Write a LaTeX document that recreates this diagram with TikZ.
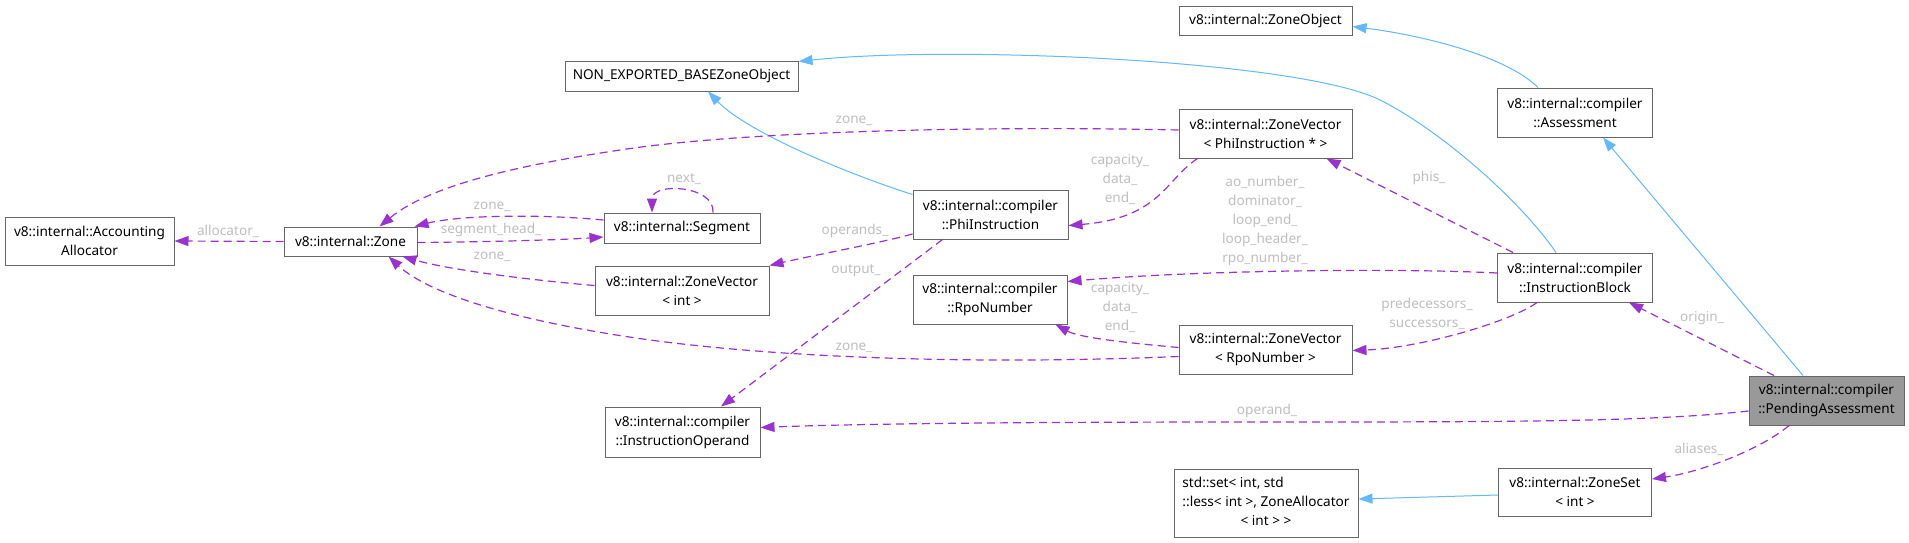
\documentclass[tikz,border=0pt]{standalone}
\usepackage{fontspec}
\newfontfamily\dgfamily{Noto Sans}
\usetikzlibrary{arrows.meta}
\definecolor{inh}{HTML}{63B8FF}
\definecolor{use}{HTML}{9A32CD}
\definecolor{bord}{HTML}{666666}
\definecolor{lbl}{HTML}{BEBEBE}
\definecolor{focus}{HTML}{999999}
\newcommand\dgfont{\dgfamily\fontsize{13.6pt}{19pt}\selectfont}
\begin{document}
\begin{tikzpicture}[x=1pt,y=-1pt,
 cls/.style 2 args={draw=bord,line width=1pt,fill=white,inner sep=0pt,align=center,font=\dgfont,minimum width=#1,minimum height=#2},
 lab/.style={text=lbl,font=\dgfont,inner sep=0pt,align=center},
 inhedge/.style={draw=inh,line width=1pt,-{Triangle[length=14pt,width=10pt]}},
 useedge/.style={draw=use,line width=1.2pt,dash pattern=on 8pt off 5pt,-{Triangle[length=14pt,width=10pt]}},
]
\useasboundingbox[fill=white] (0,0) rectangle (1909,542);

\node[cls={169pt}{48pt}] (alloc) at (89.5,241) {v8::internal::Accounting\\Allocator};
\node[cls={133pt}{29pt}] (zone) at (350.5,241.5) {v8::internal::Zone};
\node[cls={233pt}{30pt}] (nebzo) at (681.5,76) {NON\_EXPORTED\_BASEZoneObject};
\node[cls={173pt}{29pt}] (zobj) at (1265.5,20.5) {v8::internal::ZoneObject};
\node[cls={156pt}{30pt}] (seg) at (682,228) {v8::internal::Segment};
\node[cls={174pt}{49pt}] (zvint) at (682,290.5) {v8::internal::ZoneVector\\< int >};
\node[cls={155pt}{49pt}] (phi) at (990.5,214.5) {v8::internal::compiler\\::PhiInstruction};
\node[cls={173pt}{49pt}] (zvphi) at (1265.5,133.5) {v8::internal::ZoneVector\\< PhiInstruction * >};
\node[cls={155pt}{49pt}] (assess) at (1575,112.5) {v8::internal::compiler\\::Assessment};
\node[cls={154pt}{49pt}] (rpo) at (990,299.5) {v8::internal::compiler\\::RpoNumber};
\node[cls={155pt}{49pt}] (iblock) at (1575,277.5) {v8::internal::compiler\\::InstructionBlock};
\node[cls={173pt}{49pt}] (zvrpo) at (1265.5,349.5) {v8::internal::ZoneVector\\< RpoNumber >};
\node[cls={155pt}{50pt}] (iop) at (682.5,432) {v8::internal::compiler\\::InstructionOperand};
\node[cls={155pt}{49pt},fill=focus] (pend) at (1826.5,400.5) {v8::internal::compiler\\::PendingAssessment};
\node[cls={184pt}{68pt}] (stdset) at (1266,503) {\begin{tabular}{@{}l@{}}std::set< int, std\\::less< int >, ZoneAllocator\\\multicolumn{1}{@{}c@{}}{< int > >}\end{tabular}};
\node[cls={153pt}{48pt}] (zset) at (1575,492) {v8::internal::ZoneSet\\< int >};

% inheritance
\draw[inhedge] ([shift={(0,5)}]phi.north west) .. controls (860,178) and (750,135) .. ([shift={(26.5,0)}]nebzo.south);
\draw[inhedge] ([shift={(-19,0)}]iblock.north) .. controls (1520,200) and (1440,130) .. (1380,100) .. controls (1300,60) and (950,45) .. ([shift={(0,1)}]nebzo.north east);
\draw[inhedge] ([shift={(-37,0)}]assess.north) .. controls (1505,55) and (1420,35) .. ([shift={(0,6)}]zobj.east);
\draw[inhedge] ([shift={(-23.5,0)}]pend.north) -- ([shift={(28,0)}]assess.south);
\draw[inhedge] ([shift={(0,3)}]zset.west) -- ([shift={(0,-4)}]stdset.east);

% usage
\draw[useedge] (zone.west) -- (alloc.east);
\node[lab] (l1) at (228,231) {allocator\_};
\draw[useedge] ([shift={(0,-8)}]seg.west) .. controls (540,214) and (460,215) .. ([shift={(-3,0)}]zone.north east);
\node[lab] (l2) at (492,207) {zone\_};
\draw[useedge] ([shift={(0,1)}]zone.east) .. controls (480,242) and (560,240) .. ([shift={(0,9)}]seg.west);
\node[lab] (l3) at (491,230) {segment\_head\_};
\draw[useedge] ([shift={(0,-5)}]zvint.west) .. controls (530,280) and (450,270) .. ([shift={(-15,0)}]zone.south east);
\node[lab] (l4) at (492,257) {zone\_};
\draw[useedge] ([shift={(0,-3.5)}]zvphi.west) .. controls (1000,126) and (750,130) .. (620,150) .. controls (520,165) and (430,185) .. ([shift={(29,0)}]zone.north);
\node[lab] (l5) at (854,121) {zone\_};
\draw[useedge] ([shift={(0,7)}]zvrpo.west) .. controls (1000,364) and (800,360) .. (650,340) .. controls (520,322) and (430,295) .. ([shift={(38,0)}]zone.south);
\node[lab] (l6) at (854,348) {zone\_};
\draw[useedge] ([shift={(31,0)}]seg.north) .. controls (715,185) and (652,182) .. ([shift={(-30,0)}]seg.north);
\node[lab] (l7) at (684,179) {next\_};
\draw[useedge] ([shift={(0,19.5)}]phi.west) .. controls (880,243) and (810,256) .. (zvint.north east);
\node[lab] (l8) at (855,231) {operands\_};
\draw[useedge] ([shift={(-48,0)}]phi.south) -- ([shift={(38.5,0)}]iop.north);
\node[lab] (l9) at (856,271) {output\_};
\draw[useedge] ([shift={(19,0)}]zvphi.south west) .. controls (1165,180) and (1160,218) .. ([shift={(0,11)}]phi.east);
\node[lab] (l10) at (1120,179.5) {capacity\_\\data\_\\end\_};
\draw[useedge] ([shift={(-62,0)}]iblock.north) -- ([shift={(61,0)}]zvphi.south);
\node[lab] (l11) at (1429,178) {phis\_};
\draw[useedge] ([shift={(0,-4.5)}]iblock.west) .. controls (1400,268) and (1200,270) .. ([shift={(0,-18)}]rpo.east);
\node[lab] (l12) at (1265,221) {ao\_number\_\\dominator\_\\loop\_end\_\\loop\_header\_\\rpo\_number\_};
\draw[useedge] ([shift={(0,-2)}]zvrpo.west) .. controls (1130,343) and (1080,338) .. ([shift={(-12,0)}]rpo.south east);
\node[lab] (l13) at (1120,307.3) {capacity\_\\data\_\\end\_};
\draw[useedge] ([shift={(-38,0)}]iblock.south) .. controls (1510,322) and (1420,348) .. ([shift={(0,1)}]zvrpo.east);
\node[lab] (l14) at (1427,314) {predecessors\_\\successors\_};
\draw[useedge] ([shift={(-52.5,0)}]pend.north) -- ([shift={(54,0)}]iblock.south);
\node[lab] (l15) at (1702,318) {origin\_};
\draw[useedge] ([shift={(0,10.5)}]pend.west) .. controls (1650,422) and (1500,422) .. (1250,422) .. controls (1000,422) and (850,424) .. ([shift={(0,-4.5)}]iop.east);
\node[lab] (l16) at (1267,411) {operand\_};
\draw[useedge] ([shift={(-37.5,0)}]pend.south) .. controls (1760,450) and (1700,472) .. ([shift={(0,-13)}]zset.east);
\node[lab] (l17) at (1699,449) {aliases\_};
\end{tikzpicture}
\end{document}
